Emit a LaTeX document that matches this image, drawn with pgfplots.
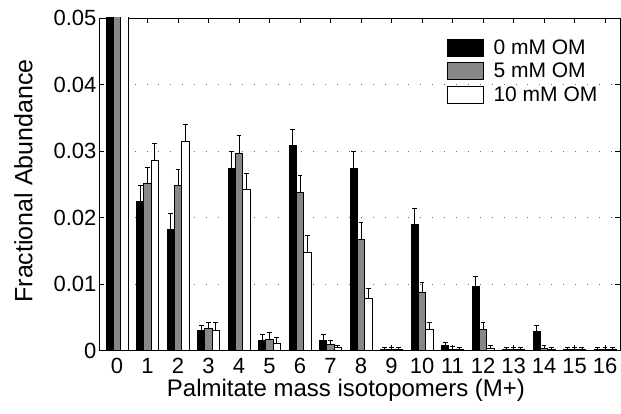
\documentclass[border=0pt]{standalone}
\usepackage{fontspec}
\setmainfont{Liberation Sans}
\usepackage{pgfplots}
\pgfplotsset{compat=1.18}
\usepackage{pgfplotstable}

\definecolor{midgray}{RGB}{135,135,135}
\definecolor{griddots}{RGB}{110,110,110}

% x, fractional abundance, upward error
\pgfplotstableread{
x y e
0 0.2 0
1 0.0224 0.0025
2 0.0182 0.0024
3 0.0030 0.0008
4 0.0274 0.0025
5 0.0015 0.0009
6 0.0309 0.0024
7 0.0015 0.0009
8 0.0274 0.0025
9 0.0001 0.0003
10 0.0189 0.0025
11 0.0007 0.0006
12 0.0096 0.0015
13 0.0001 0.0003
14 0.0028 0.0010
15 0.0001 0.0003
16 0.0001 0.0003
}\zeroOM
\pgfplotstableread{
x y e
0 0.2 0
1 0.0252 0.0023
2 0.0248 0.0024
3 0.0033 0.0010
4 0.0297 0.0026
5 0.0017 0.0010
6 0.0238 0.0025
7 0.0009 0.0006
8 0.0167 0.0025
9 0.0001 0.0003
10 0.0088 0.0015
11 0.0002 0.0004
12 0.0032 0.0011
13 0.0001 0.0003
14 0.0003 0.0004
15 0.0001 0.0003
16 0.0001 0.0003
}\fiveOM
\pgfplotstableread{
x y e
0 0.2 0
1 0.0286 0.0026
2 0.0315 0.0025
3 0.0030 0.0012
4 0.0242 0.0025
5 0.0010 0.0010
6 0.0148 0.0025
7 0.0004 0.0004
8 0.0078 0.0016
9 0.0001 0.0003
10 0.0032 0.0011
11 0.0001 0.0004
12 0.0003 0.0005
13 0.0001 0.0003
14 0.0001 0.0004
15 0.0001 0.0003
16 0.0001 0.0003
}\tenOM

\begin{document}
\begin{tikzpicture}
\begin{axis}[
  scale only axis,
  width=521pt, height=332.5pt,
  xmin=-0.59, xmax=16.49,
  ymin=0, ymax=0.05,
  ybar=0pt, bar width=7.3pt,
  xtick={0,...,16},
  ytick={0,0.01,0.02,0.03,0.04,0.05},
  yticklabels={0,0.01,0.02,0.03,0.04,0.05},
  scaled y ticks=false,
  tick align=inside, tick pos=both,
  major tick length=5pt,
  tick style={black, line width=0.6pt},
  ymajorgrids,
  grid style={griddots, line width=0.9pt, dash pattern=on 0.9pt off 11pt},
  axis line style={black, line width=0.8pt},
  /pgf/number format/assume math mode=true,
  ticklabel style={font=\fontsize{22}{24}\selectfont},
  yticklabel style={xshift=1pt},
  xticklabel style={yshift=-4pt},
  xlabel={Palmitate mass isotopomers (M+)},
  ylabel={Fractional Abundance},
  every axis x label/.style={at={(axis description cs:0.474,-0.12)}, anchor=center,
    font=\fontsize{24}{26}\selectfont},
  every axis y label/.style={at={(axis description cs:-0.145,0.51)}, rotate=90, anchor=center,
    font=\fontsize{25}{27}\selectfont},
  legend style={draw=none, fill=none, inner sep=0pt,
    at={(axis description cs:0.667,0.94)}, anchor=north west,
    font=\fontsize{21}{21}\selectfont, row sep=3pt,
    /tikz/every odd column/.append style={column sep=8pt}},
  legend image code/.code={\draw[#1, draw=black, line width=0.8pt] (0pt,-8.5pt) rectangle (36pt,8.5pt);},
  legend cell align=left,
  error bars/y dir=plus, error bars/y explicit,
  error bars/error bar style={black, line width=0.7pt},
  error bars/error mark options={rotate=90, mark size=2.4pt, line width=0.7pt, black},
]
\addplot[fill=black, draw=black, line width=0.8pt] table[x=x, y=y, y error=e] {\zeroOM};
\addplot[fill=midgray, draw=black, line width=0.8pt] table[x=x, y=y, y error=e] {\fiveOM};
\addplot[fill=white, draw=black, line width=0.8pt] table[x=x, y=y, y error=e] {\tenOM};
\legend{0 mM OM, 5 mM OM, 10 mM OM}
\end{axis}
\pgfresetboundingbox
\path (-99pt,-63.5pt) rectangle (522pt,350.5pt);
\end{tikzpicture}
\end{document}
